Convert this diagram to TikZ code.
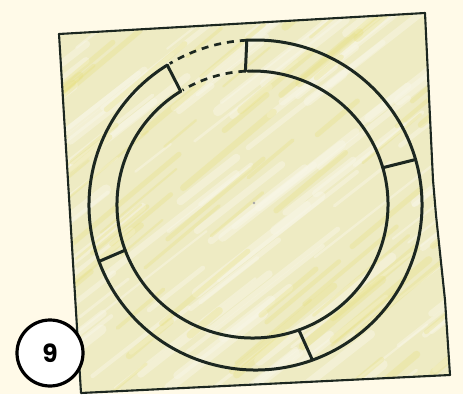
\documentclass[tikz,border=0pt]{standalone}
\usepackage{fontspec}
\newfontfamily\badgefont{Poppins}
\definecolor{bgc}{HTML}{FFFAE8}
\definecolor{paperc}{HTML}{EEEBC3}
\definecolor{paperdeep}{HTML}{E7E07C}
\definecolor{paperlight}{HTML}{F8F6E6}
\definecolor{inkc}{HTML}{1C2720}
\tikzset{
  ink/.style={draw=inkc, line width=3pt, line cap=round, line join=round},
  dashink/.style={draw=inkc, line width=2.7pt, dash pattern=on 7pt off 6pt},
  paperedge/.style={draw=inkc, line width=2.1pt, line join=round},
  badgestyle/.style={circle, draw=black, line width=3.2pt, fill=white, minimum size=66pt, inner sep=0pt}
}
\begin{document}
\begin{tikzpicture}[x=1pt,y=1pt]
\fill[bgc] (0,0) rectangle (463,394);
\useasboundingbox (0,0) rectangle (463,394);
% paper corners
\coordinate (TL) at (59,360);
\coordinate (TR) at (425,381);
\coordinate (R1) at (433,214);
\coordinate (R2) at (436,179);
\coordinate (R3) at (445,94);
\coordinate (BR) at (450,19);
\coordinate (BL) at (81,1);
\fill[paperc] (TL) -- (TR) -- (R1) -- (R2) -- (R3) -- (BR) -- (BL) -- cycle;
\begin{scope}
  \clip (TL) -- (TR) -- (R1) -- (R2) -- (R3) -- (BR) -- (BL) -- cycle;
  \pgfmathsetseed{11}
  \foreach \i in {1,...,140}{
    \pgfmathsetmacro{\a}{-120+rnd*560}
    \pgfmathsetmacro{\b}{-40+rnd*420}
    \pgfmathsetmacro{\l}{40+rnd*140}
    \pgfmathsetmacro{\w}{2+rnd*8}
    \draw[paperlight, opacity=0.5, line width=\w pt, line cap=round] (\a,\b) -- ++(38:\l);
  }
  \foreach \i in {1,...,90}{
    \pgfmathsetmacro{\a}{-120+rnd*560}
    \pgfmathsetmacro{\b}{-40+rnd*420}
    \pgfmathsetmacro{\l}{30+rnd*110}
    \pgfmathsetmacro{\w}{2+rnd*6}
    \draw[paperdeep, opacity=0.3, line width=\w pt, line cap=round] (\a,\b) -- ++(40:\l);
  }
\end{scope}
\draw[paperedge] (TL) -- (TR) -- (R1) -- (R2) -- (R3) -- (BR) -- (BL) -- cycle;
% ring centres
\coordinate (O) at (255.5,189);
\coordinate (I) at (252.5,189.5);
\fill[gray!70] (254,191) circle (1.3pt);
\foreach \t in {93,122,200,290,376}{
  \coordinate (o\t) at ([shift={(\t:166.5 and 165)}]O);
  \coordinate (i\t) at ([shift={(\t:135.5 and 133.5)}]I);
}
% solid arcs
\draw[ink] (o122) arc[start angle=122, end angle=453, x radius=166.5, y radius=165];
\draw[ink] (i122) arc[start angle=122, end angle=452, x radius=135.5, y radius=133.5];
% dashed gap
\draw[dashink] (o93) arc[start angle=93, end angle=121, x radius=166.5, y radius=165];
\draw[dashink] (i93) arc[start angle=93, end angle=121, x radius=135.5, y radius=133.5];
% radial joints
\foreach \t in {93,122,200,290,376}{
  \draw[ink] (i\t) -- (o\t);
}
% badge
\node[badgestyle] (badge) at (50,41) {\badgefont\bfseries\fontsize{25}{25}\selectfont 9};
\end{tikzpicture}
\end{document}
